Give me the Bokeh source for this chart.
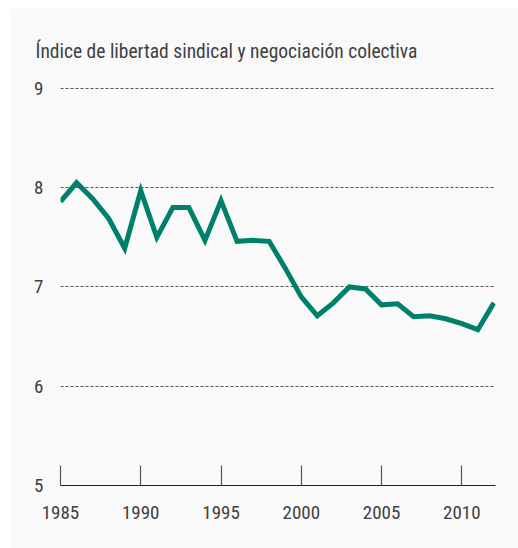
from bokeh.plotting import figure
from bokeh.models import Range1d, FixedTicker
from bokeh.embed import file_html
from bokeh.resources import INLINE

years = list(range(1985, 2013))
index_values = [7.86, 8.05, 7.89, 7.69, 7.39, 7.97, 7.50, 7.80, 7.80, 7.47,
                7.87, 7.46, 7.47, 7.46, 7.19, 6.90, 6.71, 6.84, 7.00, 6.98,
                6.82, 6.83, 6.70, 6.71, 6.68, 6.63, 6.57, 6.84]
x_ticks = [1985, 1990, 1995, 2000, 2005, 2010]
y_ticks = [5, 6, 7, 8, 9]
title_text = "Índice de libertad sindical y negociación colectiva"

FONT = "Roboto Condensed, Liberation Sans Narrow, Roboto, sans-serif"
BG = "#f9f9f9"

p = figure(width=508, height=540, output_backend="svg", toolbar_location=None,
           x_range=Range1d(1985, 2012.1), y_range=Range1d(5, 9.02),
           min_border_left=50, min_border_right=23, min_border_top=78, min_border_bottom=63,
           background_fill_color=BG, border_fill_color=BG, outline_line_color=None,
           title=title_text)
p.margin = (8, 0, 0, 10)

p.title.align = "left"
p.title.offset = -25
p.title.standoff = 47
p.title.text_font = FONT
p.title.text_font_size = "19.5px"
p.title.text_font_style = "normal"
p.title.text_color = "#404040"

p.line(years, index_values, line_color="#00806b", line_width=5, line_join="miter")

# x axis
xa = p.xaxis[0]
xa.ticker = FixedTicker(ticks=x_ticks)
xa.axis_line_color = "#222222"
xa.axis_line_width = 1.2
xa.major_tick_in = 20
xa.major_tick_out = 0
xa.major_tick_line_color = "#555555"
xa.major_tick_line_width = 1.2
xa.minor_tick_line_color = None
xa.major_label_text_font = FONT
xa.major_label_text_font_size = "19px"
xa.major_label_text_color = "#404040"
xa.major_label_standoff = 20

# y axis
ya = p.yaxis[0]
ya.ticker = FixedTicker(ticks=y_ticks)
ya.axis_line_color = None
ya.major_tick_in = 0
ya.major_tick_out = 0
ya.minor_tick_line_color = None
ya.major_label_text_font = FONT
ya.major_label_text_font_size = "19px"
ya.major_label_text_color = "#404040"
ya.major_label_standoff = 17

p.xgrid.grid_line_color = None
p.ygrid.ticker = FixedTicker(ticks=[6, 7, 8, 9])
p.ygrid.grid_line_color = "#555555"
p.ygrid.grid_line_dash = "3 2"
p.ygrid.grid_line_width = 1

open("out.html", "w").write(file_html(p, INLINE))
